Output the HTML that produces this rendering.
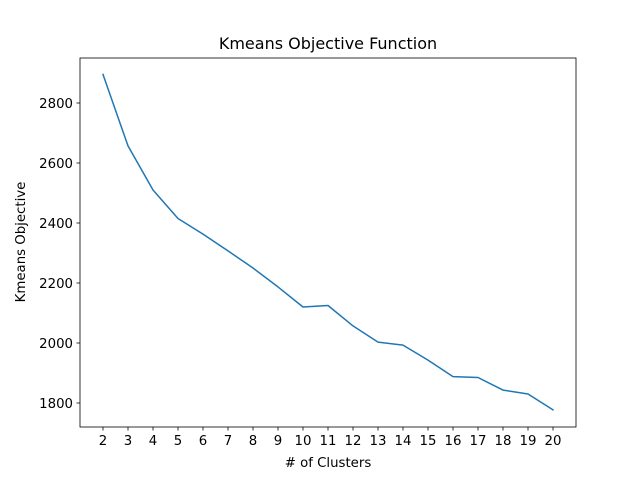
<!DOCTYPE html>
<html><head><meta charset="utf-8"><style>
body{margin:0;background:#fff;}
svg text{font-family:"DejaVu Sans","Liberation Sans",sans-serif;fill:#000;}
</style></head><body>
<svg id="c" width="640" height="480" xmlns="http://www.w3.org/2000/svg">
<rect width="640" height="480" fill="#fff"/>
<g id="ticks"></g>
<path id="line" fill="none" stroke="#1f77b4" stroke-width="1.5" stroke-linejoin="round" stroke-linecap="square"/>
<rect x="80" y="58" width="496" height="369" fill="none" stroke="#000" stroke-width="0.8"/>
<text x="328" y="49" font-size="16" text-anchor="middle">Kmeans Objective Function</text>
<text x="328" y="467" font-size="13.3" text-anchor="middle"># of Clusters</text>
<text transform="translate(25,242) rotate(-90)" font-size="13.3" text-anchor="middle">Kmeans Objective</text>
</svg>
<script>
const clusters=[2,3,4,5,6,7,8,9,10,11,12,13,14,15,16,17,18,19,20];
const objective=[2895,2657,2510,2415,2363,2307,2250,2187,2120,2125,2057,2003,1993,1943,1888,1885,1843,1830,1777];
const yTicks=[1800,2000,2200,2400,2600,2800];
const ns="http://www.w3.org/2000/svg";
function xs(v){return 103+(v-2)*25;}
function ys(v){return 403-(v-1800)*0.3;}
const g=document.getElementById('ticks');
function mk(t,a){const e=document.createElementNS(ns,t);for(const k in a)e.setAttribute(k,a[k]);g.appendChild(e);return e;}
clusters.forEach(c=>{
  const l=mk('line',{x1:xs(c),x2:xs(c),y1:427,y2:430.5,stroke:'#000','stroke-width':0.8});
  
  
  const t=mk('text',{x:xs(c),y:445,'font-size':13.3,'text-anchor':'middle'});t.textContent=c;
  
  
});
yTicks.forEach(v=>{
  const l=mk('line',{x1:76.5,x2:80,y1:ys(v),y2:ys(v),stroke:'#000','stroke-width':0.8});
  
  
  const t=mk('text',{x:73,y:ys(v)+5,'font-size':13.3,'text-anchor':'end'});t.textContent=v;
  
  
});
document.getElementById('line').setAttribute('d',clusters.map((c,i)=>(i?'L':'M')+xs(c)+','+ys(objective[i])).join(' '));
</script>
</body></html>
